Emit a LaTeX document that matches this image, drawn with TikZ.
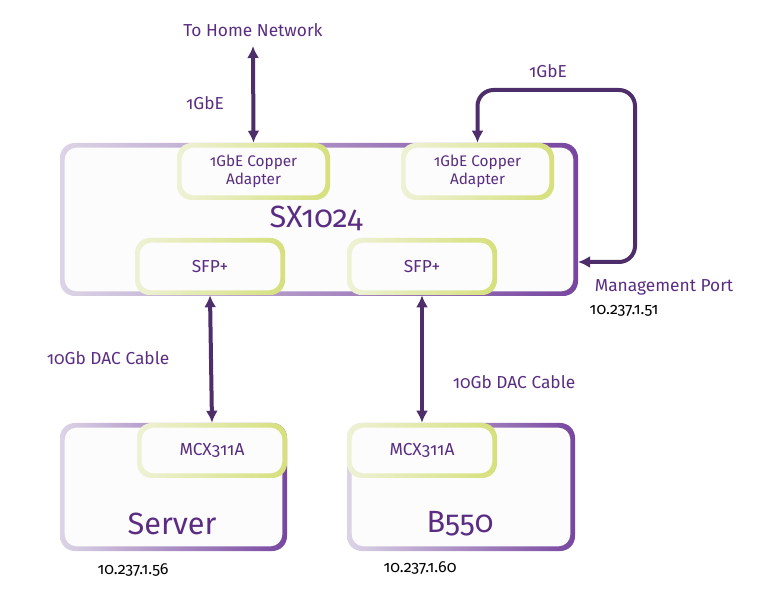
\documentclass[tikz,border=0pt]{standalone}
\usepackage{fontspec}
\setmainfont{Fira Sans}[Numbers=OldStyle]
\usetikzlibrary{arrows.meta}
\definecolor{txt}{HTML}{5A2D82}
\definecolor{arrc}{HTML}{4D2E6B}
\definecolor{lav}{HTML}{DCD4E6}
\definecolor{pur}{HTML}{7846A0}
\definecolor{ylo}{HTML}{EEF2D6}
\definecolor{ygr}{HTML}{D6E07C}
\definecolor{boxfill}{HTML}{FCFCFC}
\newcommand\gbx[7]{%
  \node[name=#1, rounded corners=11pt, left color=#5, right color=#6, minimum width=#3, minimum height=#4, inner sep=0pt] at #2 {};
  \node[fill=boxfill, rounded corners=9pt, minimum width=#3-7pt, minimum height=#4-7pt, inner sep=0pt, align=center, text=txt, font=#7] at #2 {};}
\tikzset{arr/.style={arrc, line width=3pt, {Latex[length=9pt,width=9pt]}-{Latex[length=9pt,width=9pt]}},
  lbl/.style={text=txt, font=\fontsize{13}{15}\selectfont},
  ip/.style={text=black, font=\fontsize{12}{14}\selectfont}}
\begin{document}
\begin{tikzpicture}[x=0.75pt,y=-0.75pt]
\useasboundingbox (0,0) rectangle (779,595);
\gbx{sx}{(319,219.5)}{388.5pt}{114.75pt}{lav}{pur}{}
\gbx{ada}{(253.5,171.5)}{114.75pt}{42.75pt}{ylo}{ygr}{}
\gbx{adb}{(477.5,171.5)}{114.75pt}{42.75pt}{ylo}{ygr}{}
\gbx{sfa}{(210,266.5)}{112.5pt}{42.75pt}{ylo}{ygr}{}
\gbx{sfb}{(422,266.5)}{112.5pt}{42.75pt}{ylo}{ygr}{}
\gbx{srv}{(173.5,487)}{170.25pt}{96pt}{lav}{pur}{}
\gbx{bfv}{(461,487)}{171pt}{96pt}{lav}{pur}{}
\gbx{mca}{(212,450.5)}{112.5pt}{41.25pt}{ylo}{ygr}{}
\gbx{mcb}{(422,450.5)}{112.5pt}{41.25pt}{ylo}{ygr}{}
\node[lbl, align=center, font=\fontsize{11.5}{13}\selectfont] (ta) at (ada) {1GbE Copper\\Adapter};
\node[lbl, align=center, font=\fontsize{11.5}{13}\selectfont] (tb) at (adb) {1GbE Copper\\Adapter};
\node[lbl] (tsa) at (sfa) {SFP+};
\node[lbl] (tsb) at (sfb) {SFP+};
\node[lbl] (tma) at (mca) {MCX311A};
\node[lbl] (tmb) at (mcb) {MCX311A};
\node[text=txt, font=\fontsize{23}{25}\selectfont] (sxl) at (316,218) {SX1024};
\node[text=txt, font=\fontsize{23}{25}\selectfont] (srl) at (172,524) {Server};
\node[text=txt, font=\fontsize{23}{25}\selectfont] (bl) at (460,524) {B550};
\node[lbl] (home) at (253,30) {To Home Network};
\coordinate (hc) at (253,46);
\coordinate (mp) at (578,262);
\draw[arr] (hc) -- (ada.north);
\node[lbl] (l1) at (205,103) {1GbE};
\draw[arr, rounded corners=12pt] (mp) -| (635,90) -| (adb.north);
\node[lbl] (l2) at (548,71) {1GbE};
\draw[arr] (sfa.south) -- (mca.north);
\draw[arr] (sfb.south) -- (mcb.north);
\node[lbl] (d1) at (108,358) {10Gb DAC Cable};
\node[lbl] (d2) at (514,382) {10Gb DAC Cable};
\node[lbl] (mpl) at (664,287) {Management Port};
\node[ip] (i1) at (624,311) {10.237.1.51};
\node[ip] (i2) at (133,570) {10.237.1.56};
\node[ip] (i3) at (420,568) {10.237.1.60};
\end{tikzpicture}
\end{document}
